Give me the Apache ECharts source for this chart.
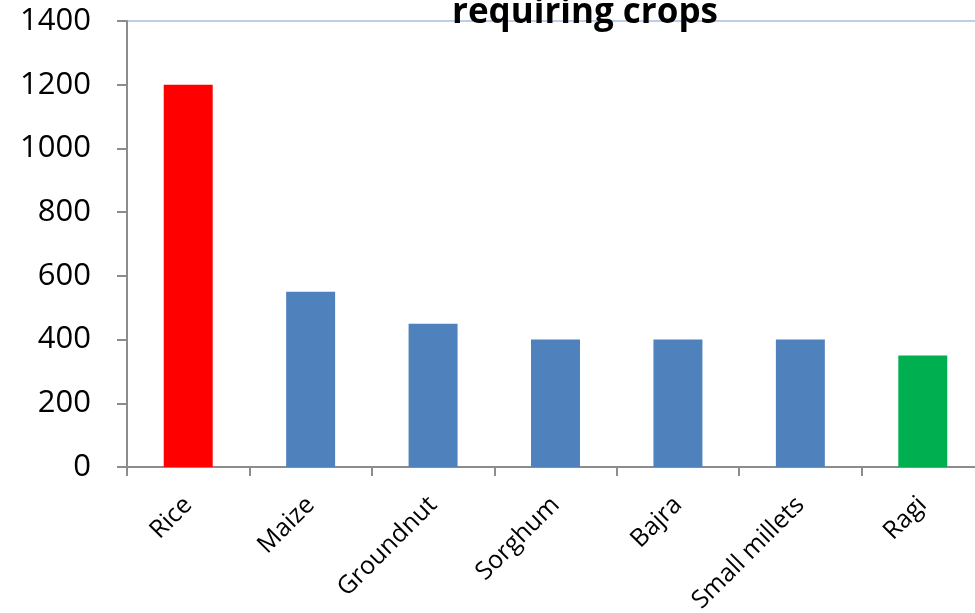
<!DOCTYPE html>
<html>
<head>
<meta charset="utf-8">
<script src="https://cdn.jsdelivr.net/npm/echarts@6/dist/echarts.min.js"></script>
<style>
  html, body { margin: 0; padding: 0; background: #fff; overflow: hidden; }
  /* the plot runs slightly past the right edge of the page */
  #chart { width: 985px; height: 613px; }
</style>
</head>
<body>
<div id="chart"></div>
<script>
// Crops and their water requirement
const crops = ['Rice', 'Maize', 'Groundnut', 'Sorghum', 'Bajra', 'Small millets', 'Ragi'];
const waterNeed = [1200, 550, 450, 400, 400, 400, 350];
const barColors = ['#FF0000', '#4F81BD', '#4F81BD', '#4F81BD', '#4F81BD', '#4F81BD', '#00B050'];
const titleText = 'requiring crops';

const FONT = '"Open Sans", "Liberation Sans", sans-serif';

const chart = echarts.init(document.getElementById('chart'), null, { renderer: 'canvas' });

chart.setOption({
  animation: false,
  backgroundColor: '#ffffff',
  title: {
    text: titleText,
    left: 580,
    textAlign: 'center',
    top: -9,
    textStyle: { fontFamily: FONT, fontWeight: 'bold', fontSize: 35, color: '#000' }
  },
  grid: {
    left: 127,
    top: 21,
    height: 446,
    width: 857,
    outerBoundsMode: 'none',
    containLabel: false,
    show: true,
    borderColor: '#A7BFE4',
    borderWidth: 1.5,
    backgroundColor: 'transparent'
  },
  xAxis: {
    type: 'category',
    data: crops,
    axisLine: { lineStyle: { color: '#8C8C8C', width: 2 } },
    axisTick: { show: true, length: 9, lineStyle: { color: '#8C8C8C', width: 2 } },
    axisLabel: {
      rotate: 45,
      margin: 34,
      interval: 0,
      fontFamily: FONT,
      fontSize: 25,
      color: '#000'
    }
  },
  yAxis: {
    type: 'value',
    min: 0,
    max: 1400,
    interval: 200,
    axisLine: { show: true, lineStyle: { color: '#8C8C8C', width: 2 } },
    axisTick: { show: true, length: 10, lineStyle: { color: '#8C8C8C', width: 2 } },
    splitLine: { show: false },
    axisLabel: {
      margin: 36,
      fontFamily: FONT,
      fontSize: 31,
      color: '#000',
      formatter: (v) => String(v)
    }
  },
  series: [{
    type: 'bar',
    barWidth: '40%',
    data: waterNeed.map((v, i) => ({ value: v, itemStyle: { color: barColors[i] } }))
  }]
});
</script>
</body>
</html>
